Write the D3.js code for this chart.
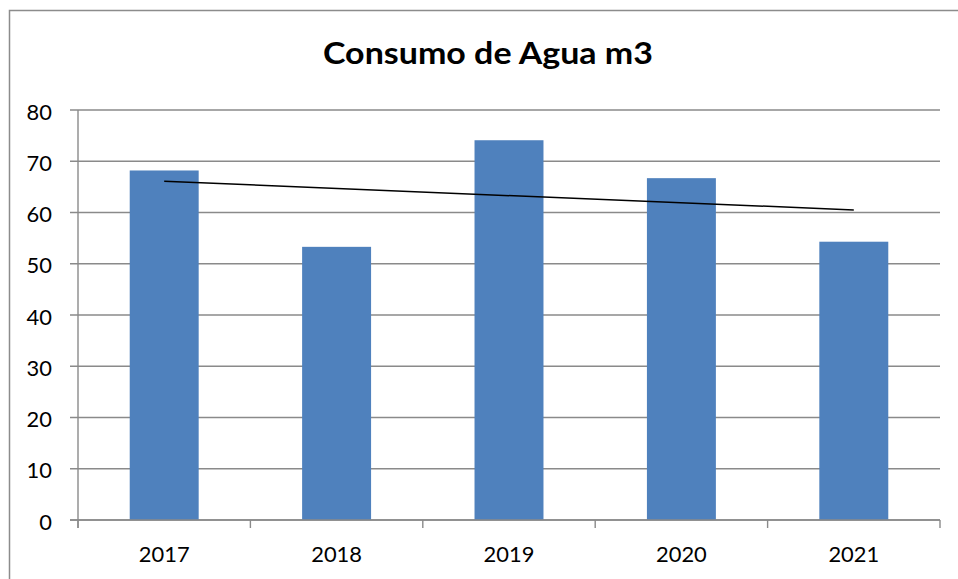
<!DOCTYPE html>
<html>
<head>
<meta charset="utf-8">
<script src="https://cdn.jsdelivr.net/npm/d3@7"></script>
<style>
  html, body { margin: 0; padding: 0; background: #fff; }
  svg { display: block; }
  text { font-family: Lato, "Open Sans", sans-serif; fill: #000; }
</style>
</head>
<body>
<svg id="chart" width="958" height="579"></svg>
<script>
const title = "Consumo de Agua m3";
const categories = ["2017", "2018", "2019", "2020", "2021"];
const values = [68.2, 53.3, 74.1, 66.7, 54.3];
const trendCategories = ["2017", "2021"];
const trendValues = [66.1, 60.5];
const yTicks = [0, 10, 20, 30, 40, 50, 60, 70, 80];

const W = 958, H = 579;
const plot = { left: 78, right: 940, top: 110, bottom: 520 };
const gridColor = "#8a8a8a";
const barColor = "#4f81bd";
const digitW = 12.7;

const svg = d3.select("#chart");

// chart border
svg.append("rect")
  .attr("x", 9.5).attr("y", 10.5)
  .attr("width", W + 20).attr("height", H + 20)
  .attr("fill", "none").attr("stroke", "#8c8c8c").attr("stroke-width", 1.5);

const x = d3.scaleBand().domain(categories).range([plot.left, plot.right]).padding(0);
const y = d3.scaleLinear().domain([0, 80]).range([plot.bottom, plot.top]);

// gridlines + y tick marks
svg.append("g").selectAll("line").data(yTicks).join("line")
  .attr("x1", plot.left - 8).attr("x2", plot.right)
  .attr("y1", d => y(d)).attr("y2", d => y(d))
  .attr("stroke", gridColor).attr("stroke-width", 1.4);

// y axis labels
svg.append("g").selectAll("text").data(yTicks).join("text")
  .attr("x", 52).attr("y", d => y(d) + 1)
  .attr("text-anchor", "end").attr("dominant-baseline", "central")
  .attr("font-size", 22)
  .attr("textLength", d => String(d).length * digitW)
  .attr("lengthAdjust", "spacingAndGlyphs")
  .text(d => d);

// bars
const barW = x.bandwidth() * 0.4;
svg.append("g").selectAll("rect").data(values).join("rect")
  .attr("x", (d, i) => x(categories[i]) + (x.bandwidth() - barW) / 2)
  .attr("width", barW)
  .attr("y", d => y(d))
  .attr("height", d => y(0) - y(d))
  .attr("fill", barColor);

// y axis line
svg.append("line")
  .attr("x1", plot.left).attr("x2", plot.left)
  .attr("y1", plot.top).attr("y2", plot.bottom + 8)
  .attr("stroke", gridColor).attr("stroke-width", 1.4);

// x axis line
svg.append("line")
  .attr("x1", plot.left - 8).attr("x2", plot.right)
  .attr("y1", plot.bottom).attr("y2", plot.bottom)
  .attr("stroke", gridColor).attr("stroke-width", 1.4);

// x tick marks at category boundaries
const bounds = categories.map(c => x(c)).concat([x(categories[categories.length - 1]) + x.bandwidth()]);
svg.append("g").selectAll("line").data(bounds).join("line")
  .attr("x1", d => d).attr("x2", d => d)
  .attr("y1", plot.bottom).attr("y2", plot.bottom + 8)
  .attr("stroke", gridColor).attr("stroke-width", 1.4);

// x labels
svg.append("g").selectAll("text").data(categories).join("text")
  .attr("x", d => x(d) + x.bandwidth() / 2)
  .attr("y", 562)
  .attr("text-anchor", "middle")
  .attr("font-size", 22)
  .attr("textLength", d => d.length * digitW)
  .attr("lengthAdjust", "spacingAndGlyphs")
  .text(d => d);

// trendline
const line = d3.line()
  .x((d, i) => x(trendCategories[i]) + x.bandwidth() / 2)
  .y(d => y(d));
svg.append("path")
  .datum(trendValues)
  .attr("d", line)
  .attr("fill", "none").attr("stroke", "#000").attr("stroke-width", 1.5);

// title
svg.append("text")
  .attr("x", 488).attr("y", 64)
  .attr("text-anchor", "middle")
  .attr("font-size", 31).attr("font-weight", "bold")
  .attr("textLength", 330)
  .attr("lengthAdjust", "spacingAndGlyphs")
  .text(title);
</script>
</body>
</html>
